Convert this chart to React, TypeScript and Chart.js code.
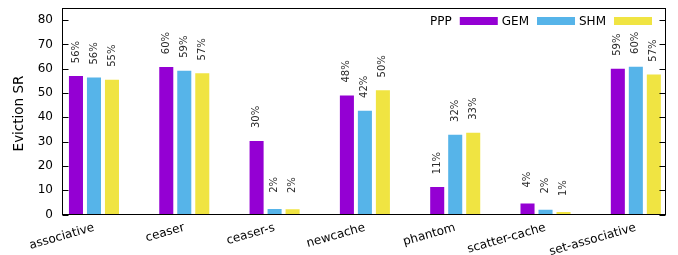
import React, { useEffect, useRef } from 'react';
import { Chart, registerables } from 'chart.js';

Chart.register(...registerables);

const categories = ['associative', 'ceaser', 'ceaser-s', 'newcache', 'phantom', 'scatter-cache', 'set-associative'];
const seriesNames = ['PPP', 'GEM', 'SHM'];
const pppValues = [57.0, 60.7, 30.3, 49.0, 11.3, 4.5, 60.0];
const gemValues = [56.4, 59.2, 2.3, 42.7, 32.8, 2.0, 60.8];
const shmValues = [55.5, 58.1, 2.2, 51.1, 33.7, 1.0, 57.6];
const pppLabels = [56, 60, 30, 48, 11, 4, 59];
const gemLabels = [56, 59, 2, 42, 32, 2, 60];
const shmLabels = [55, 57, 2, 50, 33, 1, 57];
const yTicks = [0, 10, 20, 30, 40, 50, 60, 70, 80];
const yTitle = 'Eviction SR';
const seriesColors = ['#9400D3', '#56B4E9', '#F0E442'];

const allValues = [pppValues, gemValues, shmValues];
const allLabels = [pppLabels, gemLabels, shmLabels];
const FONT = '"DejaVu Sans", sans-serif';

const framePlugin = {
  id: 'frame',
  afterDraw(chart: any) {
    const { ctx, chartArea } = chart;
    const l = Math.round(chartArea.left) + 0.5;
    const r = Math.round(chartArea.right) - 0.5;
    const t = Math.round(chartArea.top) + 0.5;
    const b = Math.round(chartArea.bottom) - 0.5;
    ctx.save();
    ctx.strokeStyle = '#000';
    ctx.lineWidth = 1;
    ctx.strokeRect(l, t, r - l, b - t);
    const ys = chart.scales.y;
    ctx.beginPath();
    yTicks.forEach((v) => {
      const y = Math.round(ys.getPixelForValue(v)) + 0.5;
      ctx.moveTo(l, y);
      ctx.lineTo(l + 6, y);
      ctx.moveTo(r, y);
      ctx.lineTo(r - 6, y);
    });
    ctx.stroke();
    // y-axis title
    ctx.fillStyle = '#000';
    ctx.font = '13.5px ' + FONT;
    ctx.textAlign = 'center';
    ctx.textBaseline = 'alphabetic';
    ctx.translate(22.5, 113.5);
    ctx.rotate(-Math.PI / 2);
    ctx.fillText(yTitle, 0, 0);
    ctx.restore();
  },
};

const valueLabelPlugin = {
  id: 'valueLabels',
  afterDatasetsDraw(chart: any) {
    const ctx = chart.ctx;
    ctx.save();
    ctx.font = '10px ' + FONT;
    ctx.fillStyle = '#2a2a2a';
    ctx.textAlign = 'center';
    ctx.textBaseline = 'middle';
    chart.data.datasets.forEach((_ds: any, di: number) => {
      const meta = chart.getDatasetMeta(di);
      meta.data.forEach((el: any, i: number) => {
        ctx.save();
        ctx.translate(el.x, el.y - 24);
        ctx.rotate(-Math.PI / 2);
        ctx.fillText(allLabels[di][i] + '%', 0, 0);
        ctx.restore();
      });
    });
    ctx.restore();
  },
};

const legendPlugin = {
  id: 'gnuLegend',
  afterDraw(chart: any) {
    const { ctx, chartArea } = chart;
    ctx.save();
    ctx.font = '12px ' + FONT;
    ctx.textAlign = 'left';
    ctx.textBaseline = 'middle';
    const swW = 38;
    const swH = 8;
    const gapTextSw = 8;
    const gapItems = 4;
    const cy = 21;
    let x = chartArea.right - 14;
    const items = chart.data.datasets.map((d: any) => ({ label: d.label, color: d.backgroundColor }));
    for (let i = items.length - 1; i >= 0; i--) {
      const it = items[i];
      x -= swW;
      ctx.fillStyle = it.color;
      ctx.fillRect(x, cy - swH / 2, swW, swH);
      x -= gapTextSw;
      const w = ctx.measureText(it.label).width;
      x -= w;
      ctx.fillStyle = '#000';
      ctx.fillText(it.label, x, cy + 0.5);
      x -= gapItems;
    }
    ctx.restore();
  },
};

export default function App() {
  const ref = useRef<HTMLCanvasElement | null>(null);
  useEffect(() => {
    if (!ref.current) return;
    const chart = new Chart(ref.current, {
      type: 'bar',
      data: {
        datasets: seriesNames.map((name, di) => ({
          label: name,
          data: allValues[di].map((y, i) => ({ x: i, y })),
          backgroundColor: seriesColors[di],
          borderWidth: 0,
          categoryPercentage: 0.598,
          barPercentage: 0.78,
        })),
      } as any,
      options: {
        responsive: false,
        animation: false,
        layout: { padding: { top: 8, right: 12, left: 0, bottom: 0 } },
        plugins: { legend: { display: false }, tooltip: { enabled: false } },
        scales: {
          x: {
            type: 'linear',
            min: -0.354,
            max: 6.334,
            offset: false,
            grid: { display: false, drawTicks: false },
            border: { display: false },
            afterBuildTicks: (s: any) => {
              s.ticks = categories.map((_c, i) => ({ value: i }));
            },
            afterFit: (s: any) => {
              s.height = 40.5;
              s.paddingLeft = 0;
              s.paddingRight = 0;
            },
            ticks: {
              autoSkip: false,
              minRotation: 16,
              maxRotation: 16,
              padding: 6,
              color: '#000',
              font: { family: FONT, size: 12 },
              callback: (v: any) => categories[v as number] ?? '',
            },
          },
          y: {
            type: 'linear',
            min: 0,
            max: 85,
            grid: { display: false, drawTicks: false },
            border: { display: false },
            afterBuildTicks: (s: any) => {
              s.ticks = yTicks.map((v) => ({ value: v }));
            },
            afterFit: (s: any) => {
              s.width = 62;
              s.paddingTop = 0;
              s.paddingBottom = 0;
            },
            ticks: {
              padding: 9,
              color: '#000',
              font: { family: FONT, size: 12 },
            },
          },
        },
      } as any,
      plugins: [framePlugin, valueLabelPlugin, legendPlugin],
    });
    return () => chart.destroy();
  }, []);
  return (
    <div style={{ position: 'absolute', left: 0, top: 0, width: 678, height: 255, background: '#fff' }}>
      <canvas ref={ref} width={678} height={255} style={{ width: 678, height: 255, display: 'block' }} />
    </div>
  );
}
